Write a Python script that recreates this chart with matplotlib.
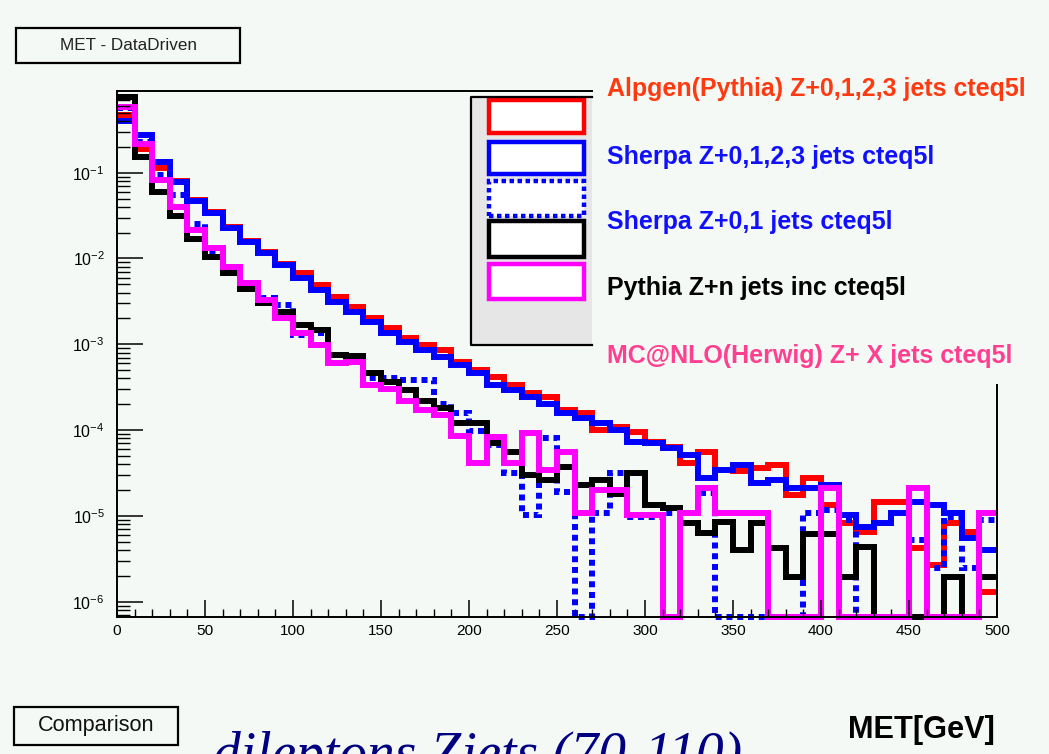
import numpy as np
import matplotlib
matplotlib.use("Agg")
import matplotlib.pyplot as plt
from matplotlib import font_manager
from matplotlib.patches import Rectangle
from matplotlib.ticker import MultipleLocator, LogLocator, NullFormatter, FixedLocator

# MET bins, 10 GeV wide
bin_edges = np.arange(0, 510, 10)

# normalised MET distributions (0 = empty bin)
alpgen = [0.47, 0.189, 0.114, 0.080, 0.048, 0.035, 0.0233, 0.016, 0.0119, 0.0086,
          0.0068, 0.0049, 0.0036, 0.0027, 0.0020, 0.00155, 0.00118, 0.00098, 0.00086, 0.00062,
          0.00050, 0.00042, 0.00034, 0.00027, 0.00024, 0.00017, 0.00016, 0.00010, 1.08e-4, 9.5e-5,
          7.3e-5, 6.4e-5, 4.1e-5, 5.6e-5, 3.4e-5, 3.3e-5, 3.6e-5, 3.9e-5, 1.75e-5, 2.8e-5,
          1.34e-5, 8.3e-6, 6.5e-6, 1.45e-5, 1.45e-5, 4.2e-6, 2.7e-6, 8.3e-6, 6.5e-6, 1.3e-6]
sherpa0123 = [0.40, 0.275, 0.133, 0.078, 0.047, 0.034, 0.0227, 0.0156, 0.0116, 0.0084,
              0.0059, 0.0043, 0.0031, 0.0024, 0.0018, 0.00135, 0.00106, 0.00086, 0.00071, 0.00057,
              0.00046, 0.00034, 0.00029, 0.00024, 0.00020, 0.00016, 0.00014, 0.00012, 0.00010, 7.3e-5,
              7.1e-5, 6.2e-5, 5.1e-5, 2.8e-5, 3.4e-5, 3.9e-5, 2.4e-5, 2.6e-5, 2.1e-5, 2.1e-5,
              2.3e-5, 1.02e-5, 7.4e-6, 8.3e-6, 1.08e-5, 1.45e-5, 1.34e-5, 1.08e-5, 5.5e-6, 4.0e-6]
sherpa01 = [0.567, 0.228, 0.094, 0.055, 0.025, 0.0119, 0.0078, 0.0052, 0.0035, 0.0029,
            0.0013, 0.00135, 0.00075, 0.00073, 0.00040, 0.00040, 0.00038, 0.00038, 0.00020, 0.00016,
            9.8e-5, 6.7e-5, 3.2e-5, 1.02e-5, 8.1e-5, 1.9e-5, 0, 1.08e-5, 3.2e-5, 9.7e-6,
            9.7e-6, 1.08e-5, 1.08e-5, 1.85e-5, 0, 0, 0, 0, 0, 1.08e-5,
            1.17e-5, 8.9e-6, 0, 0, 0, 5.2e-6, 2.5e-6, 9.7e-6, 2.5e-6, 8.9e-6]
pythia = [0.76, 0.152, 0.060, 0.031, 0.0169, 0.0104, 0.0068, 0.0044, 0.0030, 0.0024,
          0.0017, 0.00147, 0.00075, 0.00073, 0.00046, 0.00036, 0.00029, 0.00022, 0.00018, 0.00012,
          0.00012, 7.1e-5, 5.6e-5, 3.0e-5, 2.6e-5, 3.7e-5, 2.3e-5, 2.6e-5, 1.8e-5, 3.2e-5,
          1.34e-5, 1.24e-5, 8.3e-6, 6.3e-6, 8.5e-6, 4.0e-6, 8.3e-6, 4.2e-6, 1.94e-6, 6.1e-6,
          6.1e-6, 1.94e-6, 4.3e-6, 0, 0, 0, 0, 1.94e-6, 0, 1.94e-6]
mcatnlo = [0.58, 0.216, 0.082, 0.040, 0.0215, 0.0132, 0.0080, 0.0052, 0.0033, 0.0020,
           0.00135, 0.00098, 0.00061, 0.00062, 0.00034, 0.00030, 0.00022, 0.00017, 0.00015, 8.6e-5,
           4.1e-5, 8.3e-5, 4.1e-5, 9.2e-5, 3.4e-5, 5.6e-5, 1.08e-5, 2.0e-5, 2.0e-5, 1.02e-5,
           1.02e-5, 0, 1.08e-5, 2.1e-5, 1.08e-5, 1.08e-5, 1.08e-5, 0, 0, 0,
           2.1e-5, 0, 0, 0, 0, 2.1e-5, 0, 0, 0, 1.08e-5]

labels = ["Alpgen(Pythia) Z+0,1,2,3 jets cteq5l",
          "Sherpa Z+0,1,2,3 jets cteq5l",
          "Sherpa Z+0,1 jets cteq5l",
          "Pythia Z+n jets inc cteq5l",
          "MC@NLO(Herwig) Z+ X jets cteq5l"]
x_ticks = [0, 50, 100, 150, 200, 250, 300, 350, 400, 450, 500]

line_colors = ["#ff0000", "#0000ff", "#0000ff", "#000000", "#ff00ff"]
text_colors = ["#ff3a10", "#1010ff", "#1010ff", "#000000", "#ff3f8f"]
line_styles = ["-", "-", (0, (1, 0.8)), "-", "-"]
bg = "#f4f9f5"

W, H = 1049, 754


def fx(px):
    return px / W


def fy(py):
    return 1 - py / H


# ROOT uses a narrow Helvetica here; take Arial Narrow metrics if present,
# otherwise Liberation Sans and shrink a bit so the widths still fit
try:
    font_manager.findfont("Liberation Sans Narrow", fallback_to_default=False)
    sans = "Liberation Sans Narrow"
    k = 1.0
except ValueError:
    sans = "Liberation Sans"
    k = 0.82

plt.rcParams["font.family"] = [sans, "DejaVu Sans"]
plt.rcParams["mathtext.default"] = "regular"

fig = plt.figure(figsize=(W / 100, H / 100), dpi=100, facecolor=bg)

ax = fig.add_axes([fx(117), fy(617), fx(997) - fx(117), fy(91) - fy(617)])
ax.set_facecolor(bg)
ymin = 10 ** -6.178
ymax = 10 ** -0.048
ax.set_yscale("log")
ax.set_xlim(0, 500)
ax.set_ylim(ymin, ymax)

series = [alpgen, sherpa0123, sherpa01, pythia, mcatnlo]
for vals, c, ls in zip(series, line_colors, line_styles):
    v = np.asarray(vals, dtype=float)
    v = np.where(v > 0, v, ymin)  # empty bins sit on the frame bottom, ROOT style
    st = ax.stairs(v, bin_edges, baseline=None, color=c, lw=4.3, linestyle=ls,
                   clip_on=False)
    st.set_capstyle("butt")

# axes / ticks in ROOT style
for s in ["left", "bottom", "top", "right"]:
    ax.spines[s].set_linewidth(1.4)
ax.spines["top"].set_bounds(0, 270)
ax.spines["right"].set_bounds(ymin, 3.4e-4)

ax.xaxis.set_major_locator(FixedLocator(x_ticks))
ax.xaxis.set_minor_locator(MultipleLocator(10))
ax.yaxis.set_major_locator(LogLocator(base=10, numticks=10))
ax.yaxis.set_minor_locator(LogLocator(base=10, subs=np.arange(2, 10), numticks=20))
ax.yaxis.set_minor_formatter(NullFormatter())
ax.tick_params(axis="x", which="major", direction="in", length=12, width=1.1,
               labelsize=13.5 * k, pad=5, top=False)
ax.tick_params(axis="x", which="minor", direction="in", length=6, width=1.0, top=False)
ax.tick_params(axis="y", which="major", direction="in", length=18.5, width=1.1,
               labelsize=14 * k, pad=9, right=False)
ax.tick_params(axis="y", which="minor", direction="in", length=9.5, width=1.0, right=False)

# title pave
fig.add_artist(Rectangle((fx(16), fy(63)), fx(240) - fx(16), fy(28) - fy(63),
                         transform=fig.transFigure, fill=False, ec="black", lw=1.6))
fig.text(fx(128), fy(46), "MET - DataDriven", ha="center", va="center",
         fontsize=15 * k, color="#222222")

# legend box (partly hidden behind the label column)
fig.add_artist(Rectangle((fx(471), fy(345)), fx(592) - fx(471), fy(97) - fy(345),
                         transform=fig.transFigure, fc="#e6e6e6", ec="none"))
fig.add_artist(plt.Line2D([fx(592), fx(471), fx(471), fx(592)],
                          [fy(97), fy(97), fy(345), fy(345)],
                          transform=fig.transFigure, color="black", lw=1.6))
entry_y = [(100, 133), (142, 174), (181, 216), (221, 257), (264, 299)]
for (y0, y1), c, ls in zip(entry_y, line_colors, line_styles):
    fig.add_artist(Rectangle((fx(489), fy(y1)), fx(584) - fx(489), fy(y0) - fy(y1),
                             transform=fig.transFigure, fc="white", ec=c, lw=3.2,
                             linestyle=ls))

label_base = [96, 164, 229, 295, 363]
for lab, c, yb in zip(labels, text_colors, label_base):
    fig.text(fx(607), fy(yb), lab, ha="left", va="baseline", color=c,
             fontsize=22 * k, fontweight="bold")

# bottom annotations
fig.add_artist(Rectangle((fx(14), fy(745)), fx(178) - fx(14), fy(707) - fy(745),
                         transform=fig.transFigure, fill=False, ec="black", lw=1.6))
fig.text(fx(96), fy(726), "Comparison", ha="center", va="center", fontsize=19 * k,
         color="#111111")
fig.text(fx(848), fy(738), "MET[GeV]", ha="left", va="baseline", fontsize=27 * k,
         fontweight="bold")
fig.text(fx(213), fy(771), "dileptons Zjets (70-110)", ha="left", va="baseline",
         fontsize=40, style="italic", color="#000080", family="Liberation Serif")

fig.savefig("out.png", dpi=100, facecolor=bg)
